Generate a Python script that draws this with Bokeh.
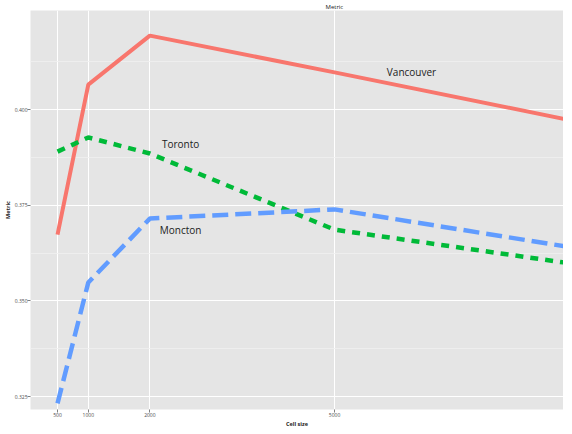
from bokeh.plotting import figure
from bokeh.models import FixedTicker, PrintfTickFormatter, Range1d, ColumnDataSource
from bokeh.core.properties import value
from bokeh.embed import file_html
from bokeh.resources import INLINE

# ---- data ----
cell_size = [500, 1000, 2000, 5000, 10000]
vancouver = [0.3673, 0.4065, 0.4193, 0.4097, 0.3934]
toronto = [0.3890, 0.3927, 0.3885, 0.3686, 0.3571]
moncton = [0.3232, 0.3548, 0.3715, 0.3739, 0.3610]

x_ticks = [500, 1000, 2000, 5000]
y_ticks = [0.325, 0.350, 0.375, 0.400]
y_minor = [0.3375, 0.3625, 0.3875, 0.4125]

label_text = ["Vancouver", "Toronto", "Moncton"]
label_x = [6250, 2500, 2500]
label_y = [0.4099, 0.3911, 0.3684]

p = figure(frame_width=533, frame_height=399, output_backend="svg", toolbar_location=None,
           x_range=Range1d(61, 8719), y_range=Range1d(0.32161, 0.42587),
           title="Metric")
p.min_border_left = 0
p.min_border_right = 0
p.min_border_top = 0
p.min_border_bottom = 0
p.outline_line_color = None
p.background_fill_color = "#E5E5E5"
p.border_fill_color = "white"

p.title.text_font_size = "6px"
p.title.text_font = "Open Sans"
p.title.text_font_style = "normal"
p.title.text_color = "#222222"
p.title.align = "left"
p.title.offset = 295
p.title.standoff = 0

# axes
p.xaxis.ticker = FixedTicker(ticks=x_ticks, minor_ticks=[])
p.yaxis.ticker = FixedTicker(ticks=y_ticks, minor_ticks=y_minor)
p.yaxis.formatter = PrintfTickFormatter(format="%.3f")
p.xaxis.axis_label = "Cell size"
p.yaxis.axis_label = "Metric"
for ax in (p.xaxis, p.yaxis):
    ax.axis_line_color = None
    ax.major_tick_in = 0
    ax.major_tick_out = 3
    ax.minor_tick_out = 0
    ax.minor_tick_in = 0
    ax.major_tick_line_color = "#7F7F7F"
    ax.major_label_text_font_size = "5px"
    ax.major_label_text_color = "#4D4D4D"
    ax.major_label_text_font = "Open Sans"
    ax.major_label_standoff = 0
    ax.axis_label_text_font_size = "5.5px"
    ax.axis_label_text_font = "Open Sans"
    ax.axis_label_text_font_style = "bold"
    ax.axis_label_text_color = "#222222"
    ax.axis_label_standoff = 0

p.xgrid.grid_line_color = "white"
p.xgrid.grid_line_width = 1
p.ygrid.grid_line_color = "white"
p.ygrid.grid_line_width = 1
p.ygrid.minor_grid_line_color = "#F0F0F0"
p.ygrid.minor_grid_line_width = 0.8

src = ColumnDataSource(dict(x=cell_size, v=vancouver, t=toronto, m=moncton))
p.line("x", "v", source=src, line_color="#F8766D", line_width=4)
p.line("x", "t", source=src, line_color="#00BA38", line_width=4.5, line_dash="8 7")
p.line("x", "m", source=src, line_color="#619CFF", line_width=4.5, line_dash="16 7")

p.text(x=label_x, y=label_y, text=label_text, text_font=value("Open Sans"),
       text_font_size="10px", text_color="#222222", text_align="center",
       text_baseline="middle")

open("out.html", "w").write(file_html(p, INLINE))
